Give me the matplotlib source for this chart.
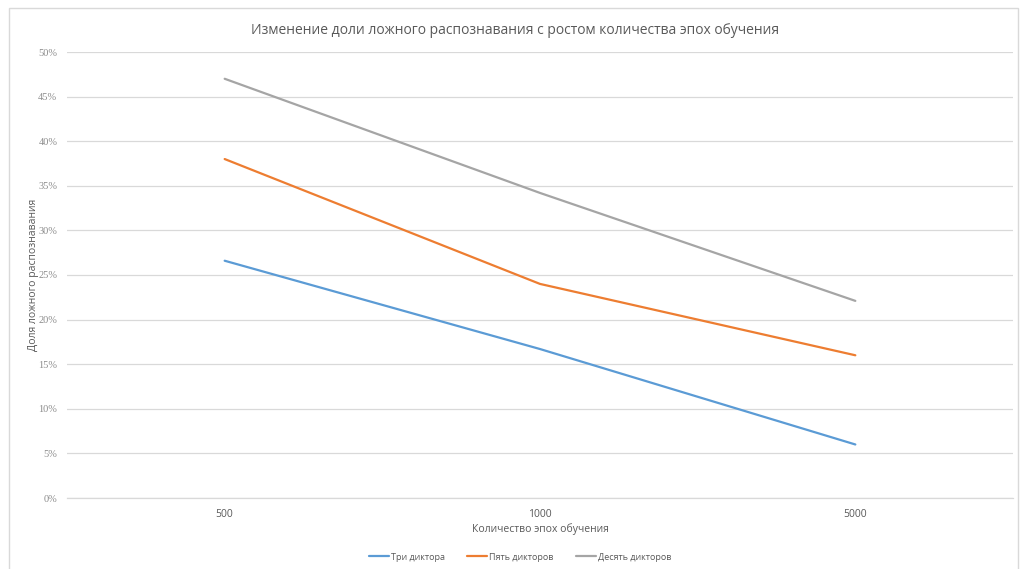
import matplotlib
matplotlib.use("Agg")
import matplotlib.pyplot as plt
from matplotlib.patches import Rectangle
from matplotlib.ticker import FuncFormatter

epochs = ["500", "1000", "5000"]
three_speakers = [0.266, 0.167, 0.06]
five_speakers = [0.38, 0.24, 0.16]
ten_speakers = [0.47, 0.342, 0.221]
series_names = ["Три диктора", "Пять дикторов", "Десять дикторов"]
series_colors = ["#5B9BD5", "#ED7D31", "#A5A5A5"]

plt.rcParams["font.family"] = ["Open Sans", "DejaVu Sans"]

fig = plt.figure(figsize=(10.25, 5.69), dpi=100)
fig.patch.set_facecolor("white")
fig.patches.append(Rectangle((9 / 1025, -0.01), 1009 / 1025, 1 - 8 / 569 + 0.01,
                             transform=fig.transFigure, fill=False,
                             edgecolor="#D9D9D9", linewidth=1))

ax = fig.add_axes([67 / 1025, 71 / 569, 946 / 1025, 446 / 569])
x = range(len(epochs))
for vals, name, col in zip([three_speakers, five_speakers, ten_speakers],
                           series_names, series_colors):
    ax.plot(x, vals, color=col, linewidth=1.6, label=name, solid_capstyle="round")

ax.set_xlim(-0.5, 2.5)
ax.set_ylim(0, 0.5)
ax.set_yticks([i * 0.05 for i in range(11)])
ax.yaxis.set_major_formatter(FuncFormatter(lambda v, _: f"{round(v * 100)}%"))
ax.set_xticks(list(x))
ax.set_xticklabels(epochs)
for lbl in ax.get_yticklabels():
    lbl.set_family("Liberation Serif")
ax.tick_params(axis="y", length=0, pad=7, labelsize=7.5, labelcolor="#8C8C8C")
ax.tick_params(axis="x", length=0, pad=8, labelsize=7.5, labelcolor="#595959")
ax.grid(axis="y", color="#D9D9D9", linewidth=0.9)
ax.set_axisbelow(True)
for s in ax.spines.values():
    s.set_visible(False)
ax.spines["bottom"].set_visible(True)
ax.spines["bottom"].set_color("#D9D9D9")
ax.spines["bottom"].set_linewidth(0.9)

ax.set_xlabel("Количество эпох обучения", fontsize=7.5, color="#595959", labelpad=2)
ax.set_ylabel("Доля ложного распознавания", fontsize=7.5, color="#595959")
ax.yaxis.set_label_coords(-0.03, 0.5)
fig.text(515 / 1025, 1 - 30 / 569, "Изменение доли ложного распознавания с ростом количества эпох обучения",
         ha="center", va="center", fontsize=10, color="#595959")

fig.legend(loc="center", bbox_to_anchor=(520 / 1025, 1 - 557 / 569), ncol=3,
           frameon=False, fontsize=6.5, labelcolor="#595959",
           handlelength=2.2, handletextpad=0.2, columnspacing=2.5)

fig.savefig("out.png", dpi=100)
